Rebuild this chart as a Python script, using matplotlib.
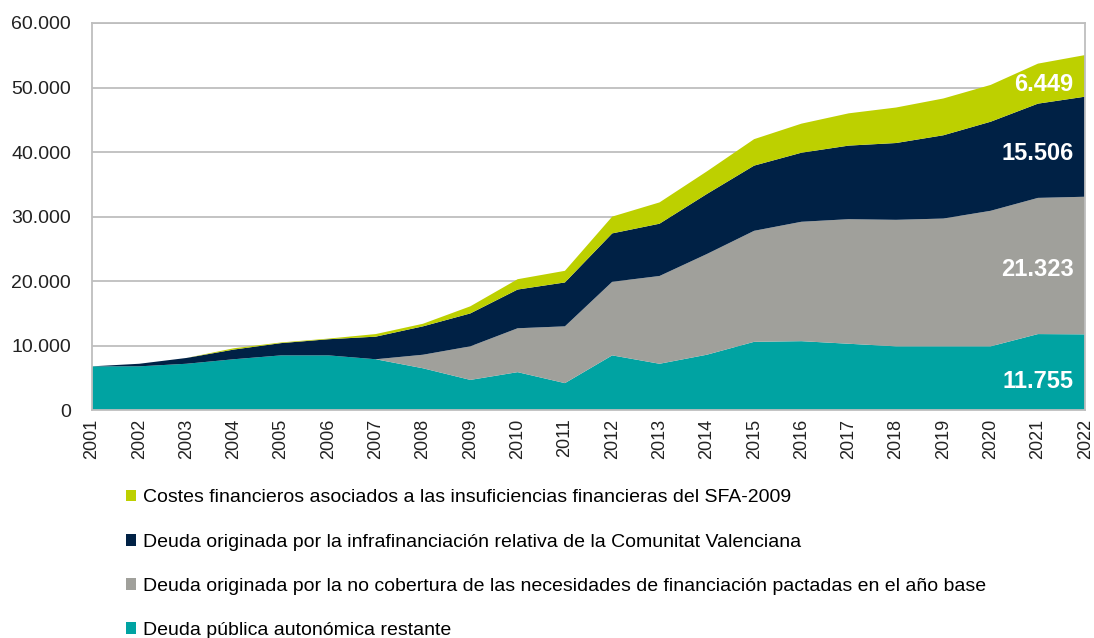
import matplotlib
matplotlib.use("Agg")
import numpy as np
import matplotlib.pyplot as plt
from matplotlib.patches import Patch
from matplotlib.ticker import FuncFormatter

years = list(range(2001, 2023))

# millones de euros
deuda_restante = [6800, 6800, 7200, 7900, 8500, 8500, 7900, 6500, 4700, 5900, 4200,
                  8500, 7200, 8600, 10600, 10700, 10300, 9900, 9900, 9900, 11800, 11755]
no_cobertura = [0, 0, 0, 0, 0, 0, 0, 2100, 5200, 6800, 8800,
                11400, 13600, 15600, 17200, 18500, 19300, 19600, 19800, 21000, 21100, 21323]
infrafinanciacion = [0, 400, 900, 1500, 1900, 2500, 3500, 4400, 5100, 6000, 6800,
                     7500, 8100, 9300, 10100, 10700, 11400, 11900, 12900, 13800, 14600, 15506]
costes_financieros = [0, 0, 0, 200, 100, 100, 400, 400, 1100, 1600, 1800,
                      2600, 3300, 3500, 4100, 4500, 5000, 5500, 5700, 5700, 6200, 6449]

series_names = [
    "Deuda pública autonómica restante",
    "Deuda originada por la no cobertura de las necesidades de financiación pactadas en el año base",
    "Deuda originada por la infrafinanciación relativa de la Comunitat Valenciana",
    "Costes financieros asociados a las insuficiencias financieras del SFA-2009",
]
colors = ["#00A3A2", "#A0A09B", "#002145", "#BDD000"]

plt.rcParams['font.family'] = ['Liberation Sans', 'DejaVu Sans']

fig = plt.figure(figsize=(10.94, 6.38), dpi=100)
ax = fig.add_axes([0.084, 0.357, 0.908, 0.607])

data = [deuda_restante, no_cobertura, infrafinanciacion, costes_financieros]
ax.stackplot(years, *data, colors=colors, zorder=2)

ax.set_xlim(2001, 2022)
ax.set_ylim(0, 60000)
ax.set_yticks(range(0, 60001, 10000))
ax.yaxis.set_major_formatter(FuncFormatter(lambda v, p: f"{int(v):,}".replace(",", ".")))
ax.set_xticks(years)
ax.set_xticklabels([str(y) for y in years], rotation=90)
ax.tick_params(axis='x', length=0, labelsize=13, colors='#222222', pad=6)
ax.tick_params(axis='y', length=0, labelsize=14, colors='#222222', pad=15)
ax.grid(axis='y', color='#BEBEBE', linewidth=1.3, zorder=1)
for s in ax.spines.values():
    s.set_color('#BEBEBE')
    s.set_linewidth(1.3)

# etiquetas de 2022 dentro de cada franja
bottom = 0
offsets = [-1500, -600, -1000, -1400]
for vals, off in zip(data, offsets):
    v = vals[-1]
    ax.text(2021.75, bottom + v / 2 + off, f"{v:,}".replace(",", "."), color='white',
            fontsize=17, fontweight='bold', ha='right', va='center', zorder=3)
    bottom += v

handles = [Patch(facecolor=c, edgecolor='none') for c in colors][::-1]
fig.legend(handles, series_names[::-1], loc='upper left', bbox_to_anchor=(0.106, 0.248),
           frameon=False, fontsize=14, handlelength=0.55, handleheight=0.55,
           handletextpad=0.35, labelspacing=1.4, borderpad=0)

fig.savefig("out.png", dpi=100)
